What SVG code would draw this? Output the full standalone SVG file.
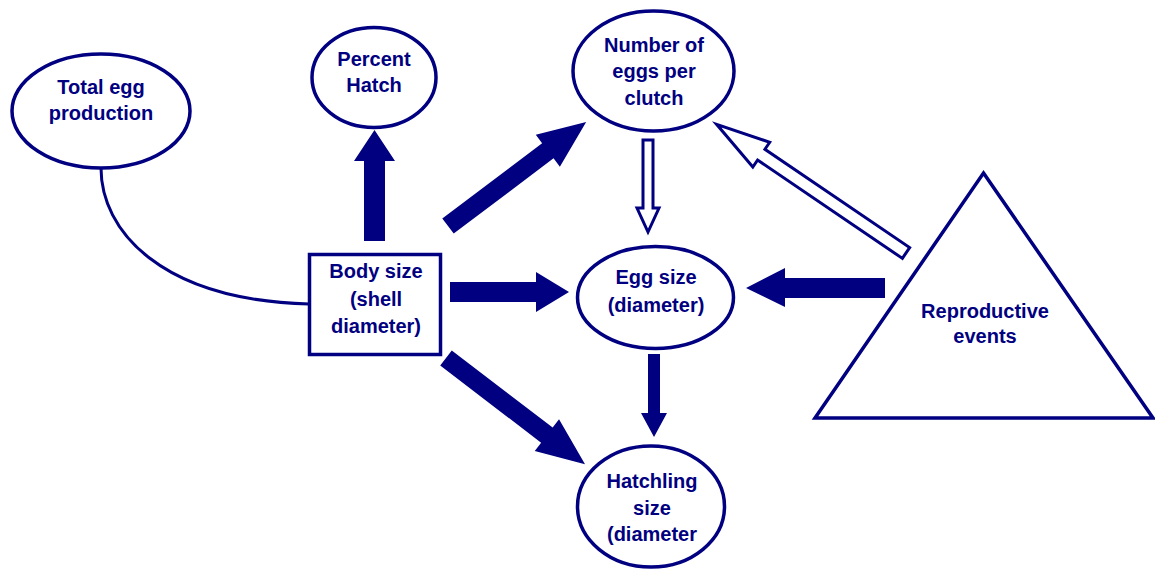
<svg xmlns="http://www.w3.org/2000/svg" width="1155" height="569" viewBox="0 0 1155 569">
<style>
.n{fill:#fff;stroke:#000080;stroke-width:3.5}
.t{font-family:"Liberation Sans",Arial,sans-serif;font-weight:bold;font-size:20px;fill:#000080;text-anchor:middle}
.a{fill:#000080;stroke:none}
.h{fill:#fff;stroke:#000080;stroke-width:3;stroke-linejoin:miter}
.c{fill:none;stroke:#000080;stroke-width:3}
</style>
<rect width="1155" height="569" fill="#fff"/>
<g id="connectors">
<path class="c" d="M101,168 C101,230 160,300 309,304"/>
<polygon class="a" points="364,241 385,241 385,161 395,161 374.5,130 354,161 364,161"/>
<polygon class="a" transform="translate(448,226) rotate(-37)" points="0,-9.5 125,-9.5 125,-20 173,0 125,20 125,9.5 0,9.5"/>
<polygon class="a" transform="translate(446,358) rotate(37.4)" points="0,-9.5 127,-9.5 127,-20 175,0 127,20 127,9.5 0,9.5"/>
<polygon class="a" points="450,282 536,282 536,272 569,292 536,312 536,302 450,302"/>
<polygon class="a" points="885,278 785,278 785,268 746,288 785,307 785,298 885,298"/>
<polygon class="a" points="648,354 660,354 660,413 667,413 654,437 641,413 648,413"/>
<polygon class="h" points="643,140 653,140 653,208 659,208 648,232 637,208 643,208"/>
<polygon class="h" transform="translate(906,253) rotate(214.2)" points="0,-6.5 175,-6.5 175,-15 229,0 175,15 175,6.5 0,6.5"/>
</g>
<g id="total-egg-production">
<ellipse class="n" cx="101" cy="111" rx="89" ry="57"/>
<text class="t" x="101" y="94">Total egg</text>
<text class="t" x="101" y="120">production</text>
</g>
<g id="percent-hatch">
<ellipse class="n" cx="374" cy="77.5" rx="62" ry="50"/>
<text class="t" x="374" y="66">Percent</text>
<text class="t" x="374" y="92">Hatch</text>
</g>
<g id="number-of-eggs">
<ellipse class="n" cx="653.5" cy="71" rx="80.5" ry="60"/>
<text class="t" x="654" y="52">Number of</text>
<text class="t" x="654" y="78">eggs per</text>
<text class="t" x="654" y="105">clutch</text>
</g>
<g id="body-size">
<rect class="n" x="309.5" y="254.5" width="131" height="100"/>
<text class="t" x="376" y="278">Body size</text>
<text class="t" x="376" y="306">(shell</text>
<text class="t" x="376" y="333">diameter)</text>
</g>
<g id="egg-size">
<ellipse class="n" cx="655.5" cy="297.5" rx="78" ry="51"/>
<text class="t" x="656" y="284">Egg size</text>
<text class="t" x="656" y="312">(diameter)</text>
</g>
<g id="hatchling-size">
<ellipse class="n" cx="651" cy="506.5" rx="73.5" ry="60.5"/>
<text class="t" x="652" y="488">Hatchling</text>
<text class="t" x="652" y="515">size</text>
<text class="t" x="652" y="541">(diameter</text>
</g>
<g id="reproductive-events">
<polygon class="n" points="983.5,173 1153,418 815,418"/>
<text class="t" x="985" y="318">Reproductive</text>
<text class="t" x="985" y="343">events</text>
</g>
</svg>
